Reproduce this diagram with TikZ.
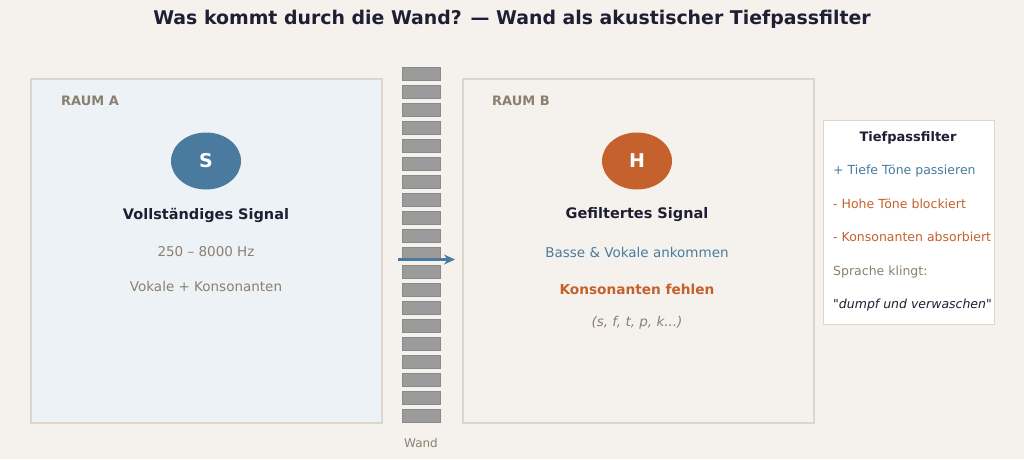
\documentclass[tikz,border=0pt]{standalone}
\usepackage{fontspec}
\setmainfont{DejaVu Sans}
\newfontfamily\qfont{DejaVu Sans}
\usetikzlibrary{arrows.meta,shapes.geometric}
\definecolor{bg}{HTML}{F5F2ED}
\definecolor{roomA}{HTML}{EDF2F7}
\definecolor{edgec}{HTML}{DDD6CA}
\definecolor{blu}{HTML}{4A7B9F}
\definecolor{ora}{HTML}{C4612D}
\definecolor{dark}{HTML}{1F1F33}
\definecolor{grayt}{HTML}{8B8070}
\definecolor{brick}{HTML}{9B9B9B}
\definecolor{brickedge}{HTML}{8A8A8A}
\tikzset{
  room/.style={draw=edgec, line width=2pt, minimum width=351pt, minimum height=344pt, inner sep=0pt},
  brickbox/.style={fill=brick, draw=brickedge, line width=0.6pt, minimum width=38pt, minimum height=13pt, inner sep=0pt},
  src/.style={ellipse, fill=#1, minimum width=70pt, minimum height=57pt, inner sep=0pt, text=white, font=\fontsize{19}{22}\selectfont\bfseries},
  lbl/.style={font=\fontsize{13.5}{16}\selectfont, inner sep=0pt},
  head/.style={font=\fontsize{14.5}{17}\selectfont\bfseries, text=dark, inner sep=0pt},
  leg/.style={font=\fontsize{12.5}{15}\selectfont, inner sep=0pt, anchor=west},
}
\begin{document}
\begin{tikzpicture}[x=1pt,y=-1pt]
\fill[bg] (0,0) rectangle (1024,459);
\useasboundingbox (0,0) rectangle (1024,459);
\node[font=\fontsize{18.9}{22}\selectfont\bfseries, text=dark, inner sep=0pt] (title) at (512,19) {Was kommt durch die Wand? — Wand als akustischer Tiefpassfilter};
% rooms
\node[room, fill=roomA] (ra) at (206.5,251) {};
\node[room, fill=bg] (rb) at (638,251) {};
\node[font=\fontsize{13}{15}\selectfont\bfseries, text=grayt, anchor=west, inner sep=0pt] (ta) at (61,101) {RAUM A};
\node[font=\fontsize{13}{15}\selectfont\bfseries, text=grayt, anchor=west, inner sep=0pt] (tb) at (492,101) {RAUM B};
% room A content
\node[src=blu] (s) at (206,161) {S};
\node[head] (va) at (206,215) {Vollständiges Signal};
\node[lbl, text=grayt] (fa) at (206,252) {250 – 8000 Hz};
\node[lbl, text=grayt] (ka) at (206,286) {Vokale + Konsonanten};
% room B content
\node[src=ora] (h) at (637,161) {H};
\node[head] (gb) at (637,215) {Gefiltertes Signal};
\node[lbl, text=blu] (bb) at (637,252) {Basse \& Vokale ankommen};
\node[lbl, text=ora, font=\fontsize{13.7}{16}\selectfont\bfseries] (kb) at (637,289) {Konsonanten fehlen};
\node[lbl, text=grayt, font=\fontsize{13.5}{16}\selectfont\itshape] (pb) at (637,323) {(s, f, t, p, k...)};
% wall
\foreach \i in {0,...,19} {
  \node[brickbox] (w\i) at (421,{74+18*\i}) {};
}
\node[font=\fontsize{12}{14}\selectfont, text=grayt, inner sep=0pt] (wand) at (421,443) {Wand};
% arrow
\coordinate (a1) at (398,259.5);
\coordinate (a2) at (455,259.5);
\draw[blu, line width=3pt, -{Stealth[length=11pt,width=10pt]}] (a1) -- (a2);
% legend
\node[draw=edgec, line width=1pt, fill=white, minimum width=171pt, minimum height=204pt, inner sep=0pt] (lg) at (908.5,222) {};
\node[font=\fontsize{13}{15}\selectfont\bfseries, text=dark, inner sep=0pt] (lt) at (908,138) {Tiefpassfilter};
\node[leg, text=blu] (l1) at (833,171) {+ Tiefe Töne passieren};
\node[leg, text=ora] (l2) at (833,204) {- Hohe Töne blockiert};
\node[leg, text=ora] (l3) at (833,237) {- Konsonanten absorbiert};
\node[leg, text=grayt] (l4) at (833,272) {Sprache klingt:};
\node[leg, text=dark, font=\fontsize{12.5}{15}\selectfont\qfont\itshape] (l5) at (833,305) {"dumpf und verwaschen"};
\end{tikzpicture}
\end{document}
